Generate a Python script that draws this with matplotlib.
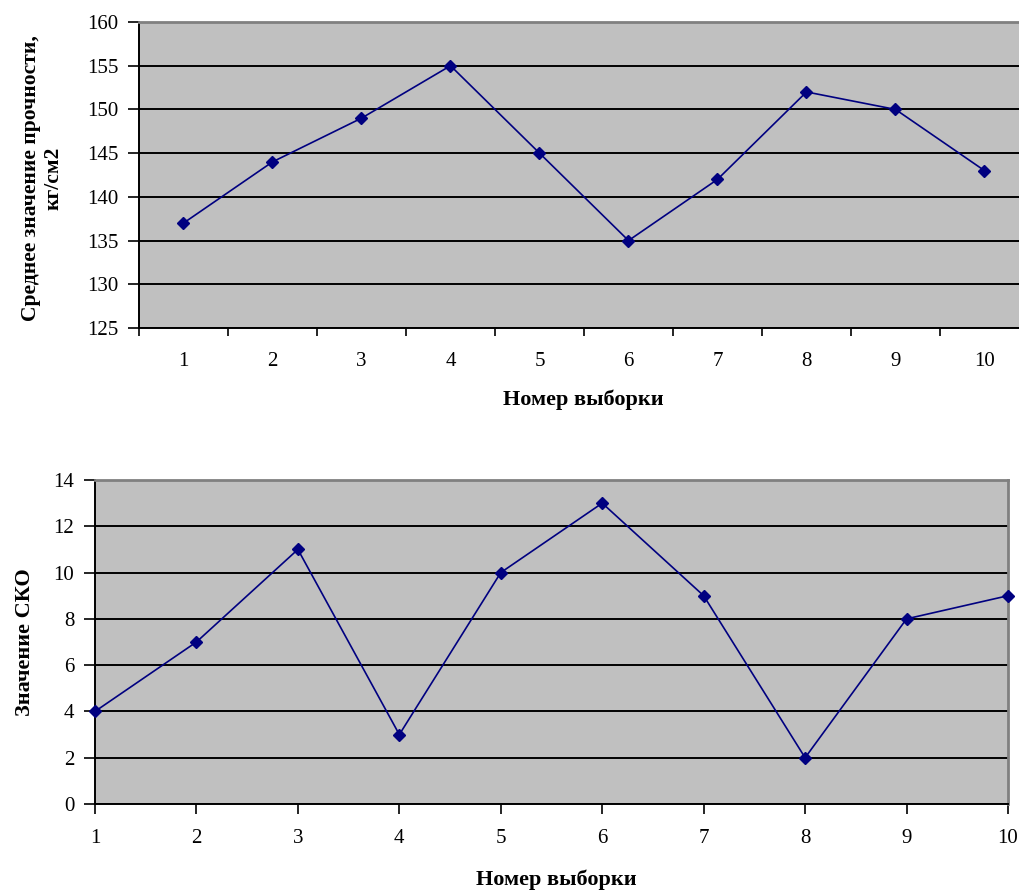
import matplotlib
matplotlib.use("Agg")
import matplotlib.pyplot as plt
from matplotlib.ticker import FixedLocator, NullFormatter, FixedFormatter

# Sample numbers and statistics
samples = [1, 2, 3, 4, 5, 6, 7, 8, 9, 10]
mean_strength = [137, 144, 149, 155, 145, 135, 142, 152, 150, 143]
std_dev = [4, 7, 11, 3, 10, 13, 9, 2, 8, 9]

mean_yticks = [125, 130, 135, 140, 145, 150, 155, 160]
std_yticks = [0, 2, 4, 6, 8, 10, 12, 14]

xlabel_text = "Номер выборки"
mean_ylabel = "Среднее значение прочности,\nкг/см2"
std_ylabel = "Значение СКО"

SERIF = ["Liberation Serif", "DejaVu Serif"]
BG = "#C0C0C0"
LINE = "#000080"
TICK_FS = 15

W, H = 1020, 893
fig = plt.figure(figsize=(W / 100, H / 100), dpi=100)


def px_axes(left, top, right, bottom):
    return fig.add_axes([left / W, 1 - bottom / H, (right - left) / W, (bottom - top) / H])


def style_common(ax, yticks):
    ax.set_facecolor(BG)
    ax.set_ylim(yticks[0], yticks[-1])
    ax.set_yticks(yticks)
    ax.yaxis.grid(True, color="black", linewidth=1.4)
    ax.set_axisbelow(True)
    ax.spines["left"].set_color("black")
    ax.spines["left"].set_linewidth(1.4)
    ax.spines["bottom"].set_color("black")
    ax.spines["bottom"].set_linewidth(1.4)
    ax.spines["top"].set_color("#808080")
    ax.spines["top"].set_linewidth(2)
    ax.spines["right"].set_color("#808080")
    ax.spines["right"].set_linewidth(2)
    ax.tick_params(axis="y", direction="out", length=8, width=1.2, pad=7,
                   labelsize=TICK_FS, colors="black")
    for lab in ax.get_yticklabels():
        lab.set_fontfamily(SERIF)


# ---- Mean strength chart (category axis, points between tick marks) ----
ax1 = px_axes(139, 22, 1029, 328)
style_common(ax1, mean_yticks)
ax1.set_xlim(samples[0] - 0.5, samples[-1] + 0.5)
ax1.xaxis.set_major_locator(FixedLocator([s - 0.5 for s in samples] + [samples[-1] + 0.5]))
ax1.xaxis.set_major_formatter(NullFormatter())
ax1.xaxis.set_minor_locator(FixedLocator(samples))
ax1.xaxis.set_minor_formatter(FixedFormatter([str(s) for s in samples]))
ax1.tick_params(axis="x", which="major", direction="out", length=6, width=1.2)
ax1.tick_params(axis="x", which="minor", length=0, pad=17, labelsize=TICK_FS)
for lab in ax1.get_xticklabels(minor=True):
    lab.set_fontfamily(SERIF)
ax1.plot(samples, mean_strength, color=LINE, linewidth=1.2, marker="D",
         markersize=6.5, markerfacecolor=LINE, markeredgecolor=LINE, clip_on=False, zorder=3)
ax1.set_xlabel(xlabel_text, fontfamily=SERIF, fontweight="bold", fontsize=16)
ax1.xaxis.set_label_coords((583 - 139) / 890, -(400 - 328) / 306)
ax1.xaxis.label.set_va("center")
fig.text(42 / W, 1 - 178 / H, mean_ylabel, rotation=90, ha="center", va="center",
         fontfamily=SERIF, fontweight="bold", fontsize=15.5, linespacing=1.15)

# ---- Standard deviation chart (points on tick marks) ----
ax2 = px_axes(95, 480, 1008, 804)
style_common(ax2, std_yticks)
ax2.set_xlim(samples[0], samples[-1])
ax2.set_xticks(samples)
ax2.tick_params(axis="x", direction="out", length=7, width=1.2, pad=11, labelsize=TICK_FS)
for lab in ax2.get_xticklabels():
    lab.set_fontfamily(SERIF)
ax2.plot(samples, std_dev, color=LINE, linewidth=1.2, marker="D",
         markersize=6.5, markerfacecolor=LINE, markeredgecolor=LINE, clip_on=False, zorder=3)
ax2.set_xlabel(xlabel_text, fontfamily=SERIF, fontweight="bold", fontsize=16)
ax2.xaxis.set_label_coords((556 - 95) / 913, -(880 - 804) / 324)
ax2.xaxis.label.set_va("center")
fig.text(25 / W, 1 - 642 / H, std_ylabel, rotation=90, ha="center", va="center",
         fontfamily=SERIF, fontweight="bold", fontsize=16)

fig.savefig("out.png", dpi=100)
